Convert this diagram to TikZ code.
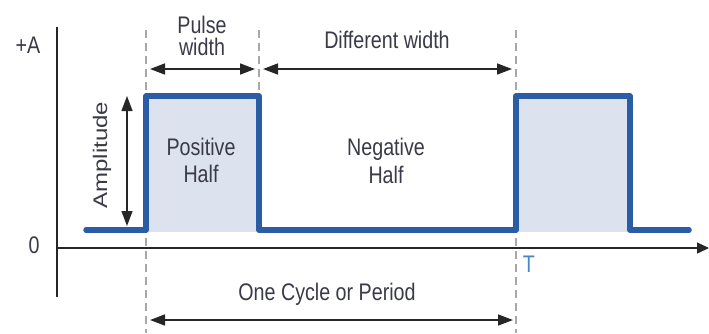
\documentclass[tikz,border=0pt]{standalone}
\usepackage{fontspec}
\setmainfont{Liberation Sans}
\usetikzlibrary{arrows.meta}
\definecolor{sigblue}{HTML}{2B5DA6}
\definecolor{tblue}{HTML}{4A86CC}
\definecolor{pulsefill}{HTML}{DCE3EE}
\definecolor{dashgray}{HTML}{A8A8A8}
\definecolor{txt}{HTML}{3A3A48}
\newcommand{\cond}[1]{\scalebox{0.82}[1]{#1}}
\tikzset{
  lbl/.style={font=\fontsize{24}{27}\selectfont, text=txt, inner sep=0pt, anchor=base},
  dim/.style={line width=1.6pt, {Triangle[length=15pt,width=11pt]}-{Triangle[length=15pt,width=11pt]}, black!85},
  guide/.style={dashgray, line width=1.3pt, dash pattern=on 8pt off 5pt},
  axis/.style={line width=1.4pt, black!85},
  signal/.style={sigblue, line width=5.5pt, line cap=round, line join=round}
}
\begin{document}
\begin{tikzpicture}[x=1pt,y=-1pt]
\useasboundingbox (0,0) rectangle (709,333);
% fills
\fill[pulsefill] (146,96) rectangle (259,232);
\fill[pulsefill] (516,96) rectangle (630,232);
% guides
\coordinate (g1t) at (146,30); \coordinate (g1b) at (146,333);
\coordinate (g2t) at (259,30); \coordinate (g2b) at (259,93);
\coordinate (g3t) at (516,30); \coordinate (g3b) at (516,333);
\draw[guide] (g1t) -- (g1b);
\draw[guide] (g2t) -- (g2b);
\draw[guide] (g3t) -- (g3b);
% axes
\coordinate (ytop) at (57,27); \coordinate (ybot) at (57,297);
\coordinate (xl) at (57,248); \coordinate (xr) at (709,248);
\draw[axis] (ytop) -- (ybot);
\draw[axis, -{Triangle[length=12pt,width=11pt]}] (xl) -- (xr);
% signal
\coordinate (s0) at (86,230);
\coordinate (s1) at (146,230); \coordinate (s2) at (146,96);
\coordinate (s3) at (259,96); \coordinate (s4) at (259,230);
\coordinate (s5) at (516,230); \coordinate (s6) at (516,96);
\coordinate (s7) at (630,96); \coordinate (s8) at (630,230);
\coordinate (s9) at (689,230);
\draw[signal] (s0) -- (s1) -- (s2) -- (s3) -- (s4) -- (s5) -- (s6) -- (s7) -- (s8) -- (s9);
% dimension arrows
\coordinate (pwl) at (150,69); \coordinate (pwr) at (255,69);
\coordinate (dwl) at (263,69); \coordinate (dwr) at (512,69);
\coordinate (amt) at (127,96); \coordinate (amb) at (127,226);
\coordinate (pel) at (150,320); \coordinate (per) at (513,320);
\draw[dim] (pwl) -- (pwr);
\draw[dim] (dwl) -- (dwr);
\draw[dim, line width=1.3pt] (amt) -- (amb);
\draw[dim] (pel) -- (per);
% labels
\node[lbl] (plusA) at (28,53) {\cond{+A}};
\node[lbl] (zero) at (34,253) {\cond{0}};
\node[lbl] (pw1) at (202,33) {\cond{Pulse}};
\node[lbl] (pw2) at (202,55) {\cond{width}};
\node[lbl] (dw) at (387,48) {\cond{Different width}};
\node[lbl, rotate=90] (amp) at (107,155) {\scalebox{1}[0.82]{Amplitude}};
\node[lbl] (pos1) at (201,155) {\cond{Positive}};
\node[lbl] (pos2) at (201,182) {\cond{Half}};
\node[lbl] (neg1) at (386,155) {\cond{Negative}};
\node[lbl] (neg2) at (386,183) {\cond{Half}};
\node[lbl] (cyc) at (327,300) {\cond{One Cycle or Period}};
\node[lbl, text=tblue] (T) at (529,272) {\cond{T}};
\end{tikzpicture}
\end{document}
